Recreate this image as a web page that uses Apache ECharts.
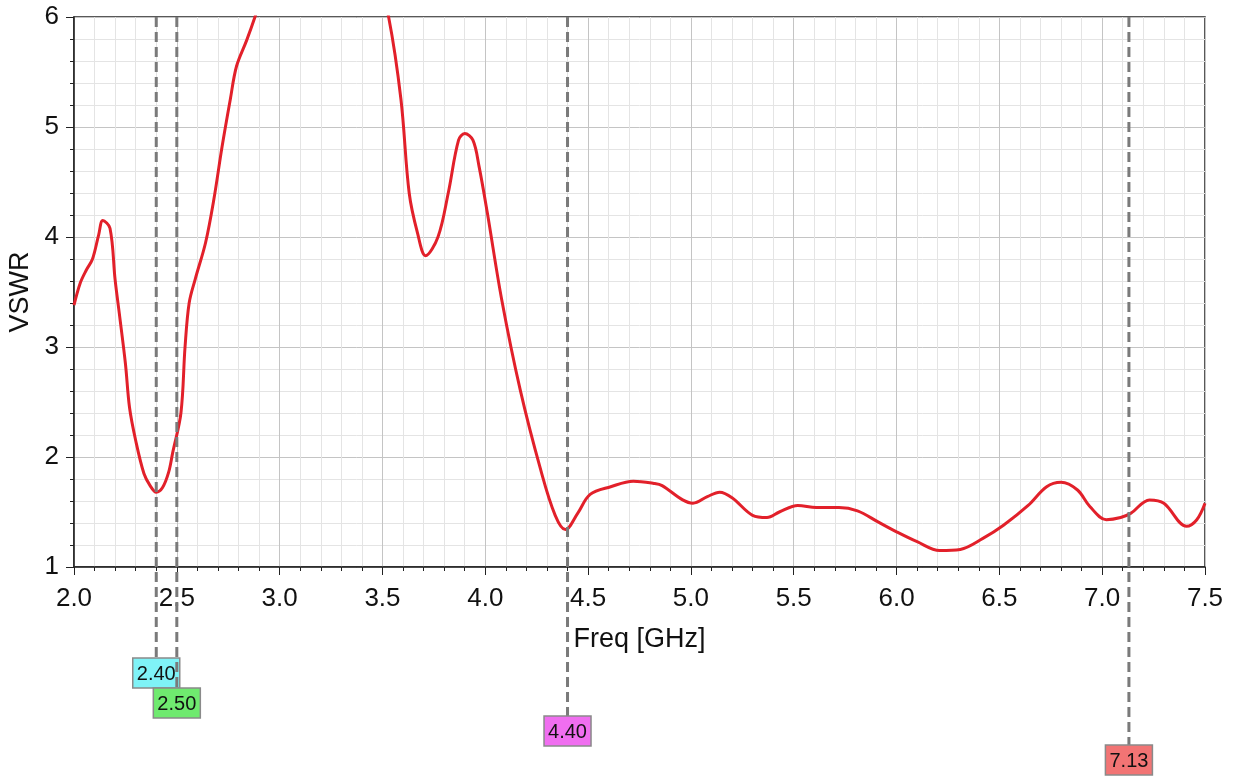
<!DOCTYPE html>
<html>
<head>
<meta charset="utf-8">
<title>VSWR</title>
<script src="https://cdn.jsdelivr.net/npm/echarts@6/dist/echarts.min.js"></script>
<style>
	html, body { margin: 0; padding: 0; background: #fff; }
	#chart { width: 1235px; height: 776px; }
</style>
</head>
<body>
<div id="chart"></div>
<script>
	// frequency points (GHz)
	var freq = [2.00, 2.03, 2.06, 2.09, 2.12, 2.14, 2.175, 2.20, 2.22, 2.25, 2.27, 2.30, 2.34, 2.37, 2.40, 2.43, 2.46, 2.48,
		2.52, 2.54, 2.56, 2.59, 2.64, 2.68, 2.72, 2.76, 2.79, 2.84, 2.88, 2.95, 3.20, 3.45, 3.53, 3.59, 3.63, 3.67, 3.71,
		3.77, 3.82, 3.87, 3.90, 3.94, 3.97, 4.01, 4.08, 4.17, 4.27, 4.34, 4.39, 4.45, 4.51, 4.61, 4.72, 4.82, 4.86,
		4.96, 5.01, 5.08, 5.14, 5.20, 5.30, 5.37, 5.43, 5.52, 5.61, 5.72, 5.81, 5.91, 6.00, 6.10, 6.21, 6.31, 6.42,
		6.52, 6.64, 6.73, 6.80, 6.88, 6.94, 7.02, 7.09, 7.14, 7.23, 7.30, 7.41, 7.46, 7.50];
	// VSWR values
	var vswr = [3.38, 3.58, 3.70, 3.80, 4.02, 4.15, 4.08, 3.61, 3.31, 2.85, 2.45, 2.15, 1.85, 1.74, 1.68, 1.72, 1.86, 2.04,
		2.40, 3.00, 3.40, 3.62, 3.95, 4.34, 4.82, 5.25, 5.55, 5.79, 6.00, 6.40, 7.00, 6.60, 6.00, 5.25, 4.40, 4.04, 3.83,
		4.00, 4.40, 4.88, 4.94, 4.88, 4.64, 4.22, 3.43, 2.61, 1.88, 1.47, 1.34, 1.49, 1.66, 1.73, 1.78, 1.76, 1.74,
		1.61, 1.58, 1.64, 1.68, 1.63, 1.47, 1.45, 1.50, 1.56, 1.54, 1.54, 1.51, 1.41, 1.32, 1.23, 1.15, 1.16, 1.26,
		1.38, 1.56, 1.73, 1.77, 1.70, 1.55, 1.43, 1.45, 1.49, 1.61, 1.58, 1.37, 1.43, 1.58];

	// markers under the x axis
	var markerFreq = [2.40, 2.50, 4.40, 7.13];
	var markerText = ['2.40', '2.50', '4.40', '7.13'];
	var markerColor = ['#7ff3f7', '#6fea6f', '#f06ef0', '#f27474'];
	var markerBoxTop = [658, 688, 716, 745]; // box top in px, staggered

	var font = '"Liberation Sans", Arial, sans-serif';

	var chart = echarts.init(document.getElementById('chart'));
	var points = [];
	for (var i = 0; i < freq.length; i++) {
		points.push([freq[i], vswr[i]]);
	}

	chart.setOption({
		animation: false,
		grid: {
			left: 74,
			right: 30,
			top: 17,
			bottom: 209,
			containLabel: false,
			outerBoundsMode: 'none',
			show: true,
			borderColor: '#222',
			borderWidth: 1.5
		},
		xAxis: {
			type: 'value',
			min: 2,
			max: 7.5,
			interval: 0.5,
			name: 'Freq [GHz]',
			nameLocation: 'middle',
			nameGap: 59,
			nameTextStyle: { fontFamily: font, fontSize: 27, color: '#111' },
			axisLine: { onZero: false, lineStyle: { color: '#222', width: 1.5 } },
			axisTick: { show: true, length: 8, lineStyle: { color: '#222' } },
			minorTick: { show: true, splitNumber: 5, length: 4, lineStyle: { color: '#222' } },
			axisLabel: {
				fontFamily: font, fontSize: 26, color: '#111', margin: 19,
				showMinLabel: true, showMaxLabel: true,
				formatter: function (v) { return v.toFixed(1); }
			},
			splitLine: { show: true, lineStyle: { color: '#c4c4c4', width: 1 } },
			minorSplitLine: { show: true, lineStyle: { color: '#e4e4e4', width: 1 } }
		},
		yAxis: {
			type: 'value',
			min: 1,
			max: 6,
			interval: 1,
			name: 'VSWR',
			nameLocation: 'middle',
			nameGap: 38,
			nameTextStyle: { fontFamily: font, fontSize: 27, color: '#111' },
			axisLine: { show: true, onZero: false, lineStyle: { color: '#222', width: 1.5 } },
			axisTick: { show: true, length: 8, lineStyle: { color: '#222' } },
			minorTick: { show: true, splitNumber: 5, length: 4, lineStyle: { color: '#222' } },
			axisLabel: {
				fontFamily: font, fontSize: 26, color: '#111', margin: 15,
				showMinLabel: true, showMaxLabel: true
			},
			splitLine: { show: true, lineStyle: { color: '#c4c4c4', width: 1 } },
			minorSplitLine: { show: true, lineStyle: { color: '#e4e4e4', width: 1 } }
		},
		series: [{
			type: 'line',
			data: points,
			smooth: 0.35,
			clip: true,
			showSymbol: false,
			lineStyle: { color: '#e2202a', width: 3 }
		}]
	});

	// dashed marker lines + labels, placed from the axis scale
	var topY = chart.convertToPixel({ yAxisIndex: 0 }, 6);
	var graphics = [];
	for (var k = 0; k < markerFreq.length; k++) {
		var px = chart.convertToPixel({ xAxisIndex: 0 }, markerFreq[k]);
		var z = 100 + k * 10;
		graphics.push({
			type: 'line',
			z: z,
			shape: { x1: px, y1: topY, x2: px, y2: markerBoxTop[k] },
			style: { stroke: '#7a7a7a', lineWidth: 3, lineDash: [10, 5] }
		});
		graphics.push({
			type: 'rect',
			z: z + 1,
			shape: { x: px - 23.5, y: markerBoxTop[k], width: 47, height: 30 },
			style: { fill: markerColor[k], stroke: '#8a8a8a', lineWidth: 1.5 }
		});
		graphics.push({
			type: 'text',
			z: z + 2,
			style: {
				x: px, y: markerBoxTop[k] + 16,
				text: markerText[k],
				fill: '#111',
				font: '20px "Liberation Sans", Arial, sans-serif',
				textAlign: 'center',
				textVerticalAlign: 'middle'
			}
		});
	}
	chart.setOption({ graphic: graphics });
</script>
</body>
</html>
